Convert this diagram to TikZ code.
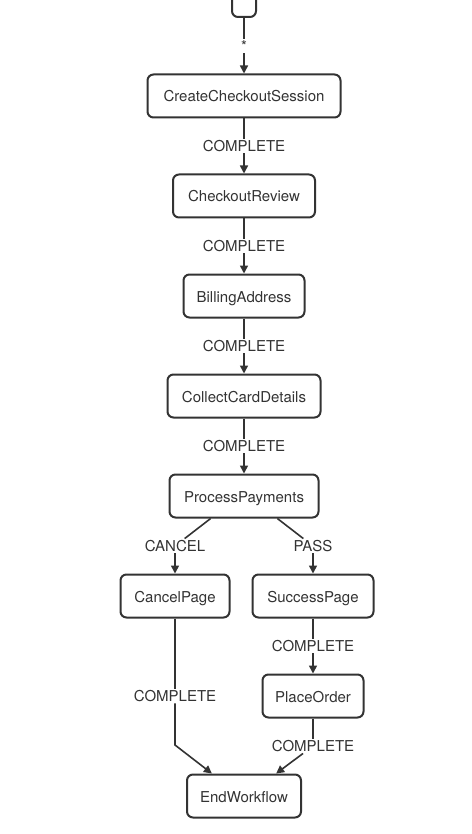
\documentclass[tikz,border=0pt]{standalone}
\usepackage{fontspec}
\setmainfont{TeX Gyre Heros}
\usetikzlibrary{arrows.meta}
\definecolor{ink}{HTML}{333333}
\begin{document}
\begin{tikzpicture}[x=1pt, y=-1pt, >={Triangle[length=8pt,width=8pt]}]
    \tikzstyle{every node}=[font=\fontsize{15}{18}\selectfont, text=ink]
    \tikzstyle{state}=[draw=ink, line width=2pt, rounded corners=6pt, minimum height=43pt, inner sep=0pt, text height=14pt, text depth=2pt]
    \tikzstyle{trans}=[draw=ink, line width=1.6pt]
    \tikzstyle{lbl}=[fill=white, inner sep=1.5pt]
    \useasboundingbox (0,0) rectangle (471,834);
    \clip (0,0) rectangle (471,834);
    \node[state, minimum width=24pt] (start) at (244,-4.5) {};
    \node[state, minimum width=193pt] (ccs) at (244,96) {CreateCheckoutSession};
    \node[state, minimum width=142pt] (review) at (244,196) {CheckoutReview};
    \node[state, minimum width=121pt] (billing) at (244,296) {BillingAddress};
    \node[state, minimum width=153pt] (card) at (244,396) {CollectCardDetails};
    \node[state, minimum width=149pt] (pay) at (244,496) {ProcessPayments};
    \node[state, minimum width=109pt] (cancelpage) at (175,596) {CancelPage};
    \node[state, minimum width=121pt] (successpage) at (313,596) {SuccessPage};
    \node[state, minimum width=101pt] (order) at (313,696) {PlaceOrder};
    \node[state, minimum width=114pt] (end) at (244,796) {EndWorkflow};
    \draw[trans,->] (start) -- node[lbl] {*} (ccs);
    \draw[trans,->] (ccs) -- node[lbl] {COMPLETE} (review);
    \draw[trans,->] (review) -- node[lbl] {COMPLETE} (billing);
    \draw[trans,->] (billing) -- node[lbl] {COMPLETE} (card);
    \draw[trans,->] (card) -- node[lbl] {COMPLETE} (pay);
    \node[lbl] (cancel) at (175,546) {CANCEL};
    \node[lbl] (pass) at (313,546) {PASS};
    \draw[trans] (pay.214) -- (cancel);
    \draw[trans,->] (cancel) -- (cancelpage);
    \draw[trans] (pay.-34) -- (pass);
    \draw[trans,->] (pass) -- (successpage);
    \draw[trans,->] (successpage) -- node[lbl] {COMPLETE} (order);
    \node[lbl] (canceldone) at (175,696) {COMPLETE};
    \coordinate (bend) at (175,745);
    \draw[trans] (cancelpage) -- (canceldone);
    \draw[trans,->] (canceldone) -- (bend) -- (end.145);
    \node[lbl] (orderdone) at (313,746) {COMPLETE};
    \draw[trans] (order) -- (orderdone);
    \draw[trans,->] (orderdone) -- (end.35);
\end{tikzpicture}
\end{document}
